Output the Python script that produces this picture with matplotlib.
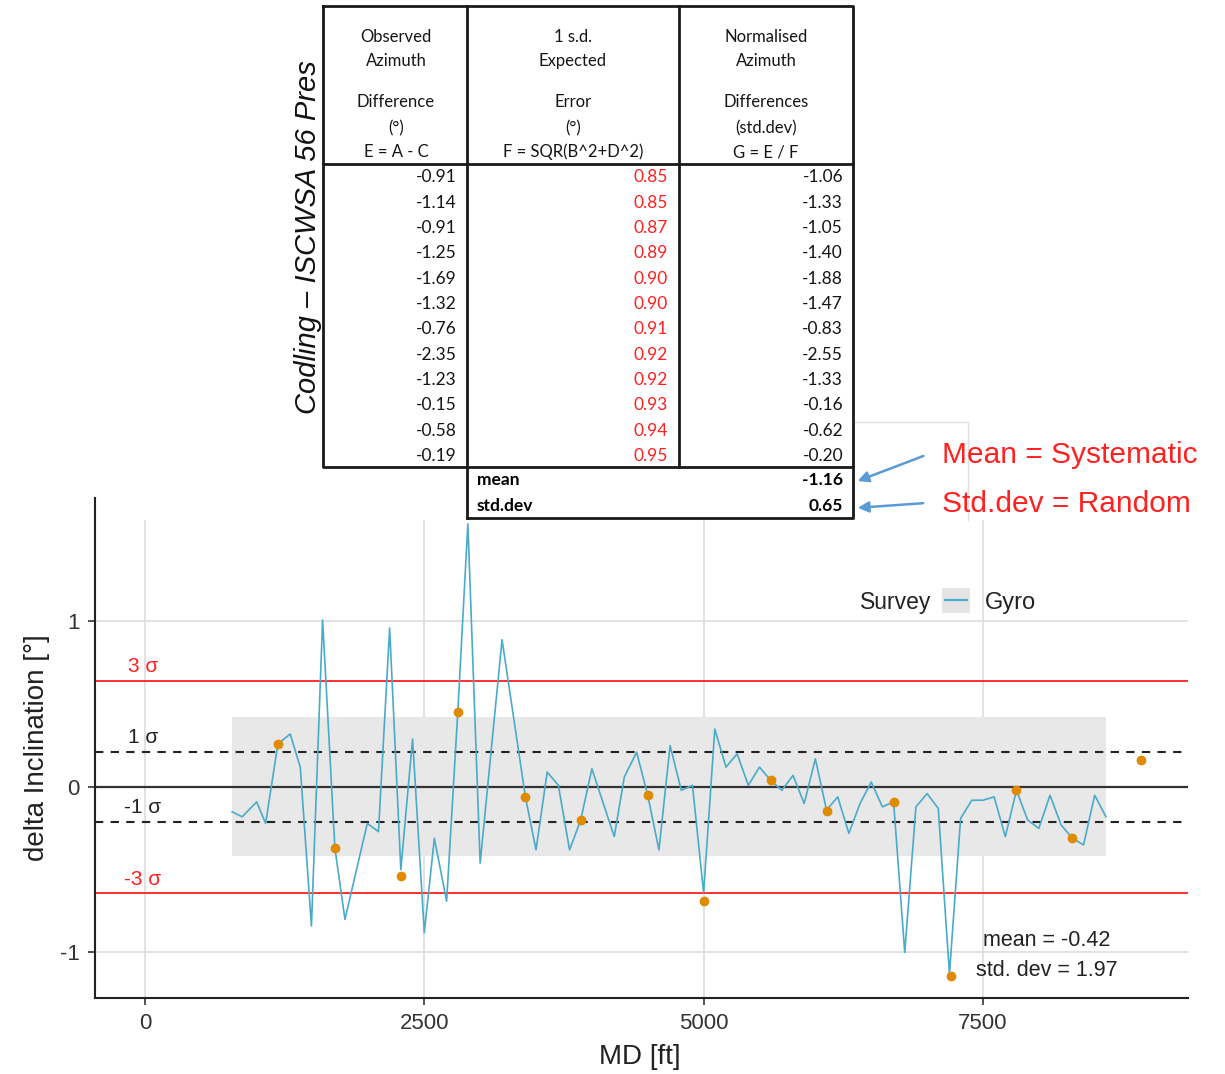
import numpy as np
import matplotlib.pyplot as plt
from matplotlib.patches import Rectangle

# gyro comparison trace (MD ft, delta inclination deg)
md_gyro = [780, 870, 1000, 1080, 1190, 1300, 1390, 1490, 1590, 1700, 1790, 1990, 2090,
           2190, 2290, 2395, 2500, 2590, 2700, 2800, 2890, 3000, 3196, 3405, 3500, 3600,
           3700, 3800, 3900, 4000, 4200, 4290, 4400, 4500, 4600, 4700, 4800, 4900, 5000,
           5100, 5200, 5300, 5400, 5500, 5600, 5700, 5800, 5900, 6000, 6100, 6200, 6300,
           6400, 6500, 6600, 6700, 6800, 6900, 7000, 7100, 7200, 7300, 7400, 7500, 7600,
           7700, 7800, 7900, 8000, 8100, 8200, 8300, 8400, 8500, 8600]
inc_gyro = [-0.15, -0.18, -0.09, -0.22, 0.26, 0.32, 0.12, -0.84, 1.01, -0.37, -0.80, -0.22, -0.27,
            0.96, -0.50, 0.29, -0.88, -0.31, -0.69, 0.455, 1.59, -0.46, 0.89, -0.06, -0.38, 0.09,
            0.01, -0.38, -0.20, 0.11, -0.30, 0.06, 0.21, -0.05, -0.38, 0.25, -0.02, 0.01, -0.64,
            0.35, 0.12, 0.20, 0.01, 0.12, 0.04, -0.02, 0.07, -0.10, 0.17, -0.14, -0.06, -0.28,
            -0.10, 0.03, -0.12, -0.09, -1.00, -0.12, -0.04, -0.13, -1.13, -0.19, -0.08, -0.08, -0.06,
            -0.30, -0.02, -0.20, -0.25, -0.05, -0.23, -0.31, -0.35, -0.05, -0.18]

# survey stations
md_survey = [1190, 1700, 2290, 2800, 3400, 3900, 4500, 5000, 5600, 6100, 6700, 7210, 7800, 8300, 8910]
inc_survey = [0.26, -0.37, -0.54, 0.455, -0.06, -0.20, -0.05, -0.69, 0.04, -0.145, -0.09, -1.14,
              -0.02, -0.31, 0.165]

sigma1 = 0.213
sigma3 = 0.64
band_md = [780, 8600]
band_inc = [-0.415, 0.425]
sigma_labels = ['3 σ', '1 σ', '-1 σ', '-3 σ']
sigma_label_y = [0.73, 0.30, -0.127, -0.56]
sigma_label_col = ['#FF2020', '#222222', '#222222', '#FF2020']

# table values
obs_diff = [-0.91, -1.14, -0.91, -1.25, -1.69, -1.32, -0.76, -2.35, -1.23, -0.15, -0.58, -0.19]
exp_err = [0.85, 0.85, 0.87, 0.89, 0.90, 0.90, 0.91, 0.92, 0.92, 0.93, 0.94, 0.95]
norm_diff = [-1.06, -1.33, -1.05, -1.40, -1.88, -1.47, -0.83, -2.55, -1.33, -0.16, -0.62, -0.20]
norm_mean = -1.16
norm_std = 0.65
head1 = ['Observed', 'Azimuth', 'Difference', '(°)', 'E = A - C']
head2 = ['1 s.d.', 'Expected', 'Error', '(°)', 'F = SQR(B^2+D^2)']
head3 = ['Normalised', 'Azimuth', 'Differences', '(std.dev)', 'G = E / F']

W, H = 1225, 1074
plt.rcParams['font.family'] = ['Liberation Sans', 'DejaVu Sans']
plt.rcParams['axes.unicode_minus'] = False
fig = plt.figure(figsize=(W / 100, H / 100), dpi=100)


def fx(px):
    return px / W


def fy(py):
    return 1 - py / H


ax = fig.add_axes([fx(95), fy(998), fx(1188) - fx(95), fy(498) - fy(998)])
ax.set_xlim(-447, 9335)
ax.set_ylim(-1.275, 1.746)
ax.set_xticks([0, 2500, 5000, 7500])
ax.set_yticks([-1, 0, 1])
ax.grid(True, color='#DDDDDD', lw=1.2, zorder=0)
ax.set_axisbelow(True)
for s in ['top', 'right']:
    ax.spines[s].set_visible(False)
for s in ['left', 'bottom']:
    ax.spines[s].set_linewidth(1.5)
    ax.spines[s].set_color('#222222')
ax.tick_params(labelsize=16, labelcolor='#333333', length=5, width=1.2, color='#333333', pad=6)

ax.fill_between(band_md, band_inc[0], band_inc[1], color='#E8E8E8', lw=0, zorder=1)
ax.axhline(0, color='#333333', lw=1.6, zorder=2)
ax.axhline(sigma1, color='#222222', lw=1.5, ls=(0, (4, 3.5)), zorder=2)
ax.axhline(-sigma1, color='#222222', lw=1.5, ls=(0, (4, 3.5)), zorder=2)
ax.axhline(sigma3, color='#FF2020', lw=1.3, zorder=2)
ax.axhline(-sigma3, color='#FF2020', lw=1.3, zorder=2)
ax.plot(md_gyro, inc_gyro, color='#4AAACA', lw=1.2, zorder=3)
ax.plot(md_survey, inc_survey, 'o', color='#E08A00', ms=6, zorder=4)

for lab, y, c in zip(sigma_labels, sigma_label_y, sigma_label_col):
    ax.text(-20, y, lab, color=c, fontsize=15, ha='center', va='center')

ax.text(8070, -0.925, 'mean = -0.42', fontsize=15.5, ha='center', va='center', color='#222222')
ax.text(8070, -1.106, 'std. dev = 1.97', fontsize=15.5, ha='center', va='center', color='#222222')

fig.text(fx(640), fy(1057), 'MD [ft]', fontsize=20, ha='center', va='center', color='#222222')
fig.text(fx(37), fy(748), 'delta Inclination [°]', fontsize=20, ha='center', va='center',
         rotation=90, color='#222222')

# overlay in pixel coordinates
ov = fig.add_axes([0, 0, 1, 1])
ov.set_xlim(0, W)
ov.set_ylim(H, 0)
ov.axis('off')
ov.patch.set_alpha(0)

ov.add_patch(Rectangle((100, 0), W - 100, 520, color='white', lw=0))

# legend
ov.text(860, 603, 'Survey', fontsize=16.5, ha='left', va='center', color='#222222')
ov.add_patch(Rectangle((942, 588), 28, 25, color='#E5E5E5', lw=0))
ov.plot([945, 967], [600, 600], color='#4AAACA', lw=1.6)
ov.text(985, 603, 'Gyro', fontsize=17, ha='left', va='center', color='#222222')

# faint frame behind the table
ov.plot([853, 968, 968], [422, 422, 520], color='#E0E0E0', lw=1)

# table
tc = '#1A1A1A'
txt = '#151515'
ov.add_patch(Rectangle((323, 6), 530, 461, color='white', lw=0))
ov.add_patch(Rectangle((467, 467), 386, 51, color='white', lw=0))
ov.plot([323, 853, 853, 323, 323], [6, 6, 467, 467, 6], color=tc, lw=2)
ov.plot([467, 467], [6, 518], color=tc, lw=2)
ov.plot([679, 679], [6, 467], color=tc, lw=2)
ov.plot([323, 853], [164, 164], color=tc, lw=2)
ov.plot([467, 853, 853], [518, 518, 467], color=tc, lw=2)

head_y = [37, 61, 102, 128, 152]
for hy, a, b, c in zip(head_y, head1, head2, head3):
    ov.text(396, hy, a, fontsize=12, ha='center', va='center', family='Lato', color=txt)
    ov.text(573, hy, b, fontsize=12, ha='center', va='center', family='Lato', color=txt)
    ov.text(766, hy, c, fontsize=12, ha='center', va='center', family='Lato', color=txt)

for i, (a, b, c) in enumerate(zip(obs_diff, exp_err, norm_diff)):
    ry = 177.5 + i * 25.3
    ov.text(457, ry, f'{a:.2f}', fontsize=12.5, ha='right', va='center', family='Lato', color=txt)
    ov.text(668, ry, f'{b:.2f}', fontsize=12.5, ha='right', va='center', family='Lato', color='#FF2020')
    ov.text(843, ry, f'{c:.2f}', fontsize=12.5, ha='right', va='center', family='Lato', color=txt)

ov.text(477, 480, 'mean', fontsize=12.5, ha='left', va='center', family='Lato', weight='bold')
ov.text(843, 480, f'{norm_mean:.2f}', fontsize=12.5, ha='right', va='center', family='Lato', weight='bold')
ov.text(477, 506, 'std.dev', fontsize=12.5, ha='left', va='center', family='Lato', weight='bold')
ov.text(843, 506, f'{norm_std:.2f}', fontsize=12.5, ha='right', va='center', family='Lato', weight='bold')

ov.text(308, 237, 'Codling – ISCWSA 56 Pres', fontsize=21, style='italic', rotation=90,
        ha='center', va='center', color='#111111')

# side notes
ov.text(942, 455, 'Mean = Systematic', fontsize=21.5, color='#FF2020', ha='left', va='center')
ov.text(942, 504, 'Std.dev = Random', fontsize=21.5, color='#FF2020', ha='left', va='center')
ov.annotate('', xy=(855, 482), xytext=(926, 455),
            arrowprops=dict(arrowstyle='-|>', color='#5B9BD5', lw=1.8, mutation_scale=16))
ov.annotate('', xy=(855, 508), xytext=(926, 503),
            arrowprops=dict(arrowstyle='-|>', color='#5B9BD5', lw=1.8, mutation_scale=16))

fig.savefig('out.png', dpi=100)
